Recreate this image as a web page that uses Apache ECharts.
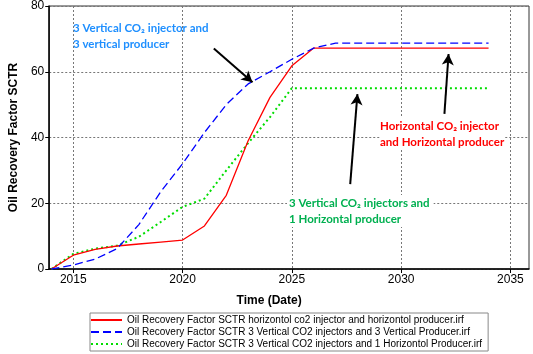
<!DOCTYPE html>
<html>
<head>
<meta charset="utf-8">
<script src="https://cdn.jsdelivr.net/npm/echarts@6/dist/echarts.min.js"></script>
<style>
  html, body { margin: 0; padding: 0; background: #fff; }
  #chart { width: 533px; height: 354px; }
</style>
</head>
<body>
<div id="chart"></div>
<script>
var years = [2014, 2015, 2016, 2017, 2018, 2019, 2020, 2021, 2022, 2023, 2024,
  2025, 2026, 2027, 2028, 2029, 2030, 2031, 2032, 2033, 2034];
var horizontal = [0, 4.2, 6.0, 7.0, 7.6, 8.2, 8.8, 13.1, 22.4, 39.0, 52.2,
  61.8, 67.2, 67.2, 67.2, 67.2, 67.2, 67.2, 67.2, 67.2, 67.2];
var vertical3 = [0, 1.2, 3.0, 6.2, 13.5, 23.5, 32.0, 41.5, 50.0, 56.3, 60.0,
  63.8, 67.2, 68.7, 68.7, 68.7, 68.7, 68.7, 68.7, 68.7, 68.7];
var vertical1h = [0, 4.6, 6.2, 7.1, 9.8, 14.3, 18.9, 21.4, 30.0, 38.3, 46.2,
  55.0, 55.0, 55.0, 55.0, 55.0, 55.0, 55.0, 55.0, 55.0, 55.0];
var xTicks = [2015, 2020, 2025, 2030, 2035];
var seriesNames = [
  'Oil Recovery Factor SCTR horizontol co2 injector and horizontol producer.irf',
  'Oil Recovery Factor SCTR 3 Vertical CO2 injectors and 3 Vertical Producer.irf',
  'Oil Recovery Factor SCTR 3 Vertical CO2 injectors and 1 Horizontol Producer.irf'
];
// arrows: [from, to] in data coords
var arrowBlue = [[2021.43, 67.1], [2023.2, 56.8]];
var arrowRed = [[2031.98, 47.2], [2032.17, 65.4]];
var arrowGreen = [[2027.67, 25.8], [2028.0, 53.2]];

function pairs(xs, ys) {
  return xs.map(function (x, i) { return [x, ys[i]]; });
}

function arrowLine(a) {
  return {
    silent: true,
    symbol: ['none', 'arrow'],
    symbolSize: [9, 11],
    label: { show: false },
    lineStyle: { color: '#000', width: 2, type: 'solid' },
    data: [[{ coord: a[0] }, { coord: a[1] }]]
  };
}

var myChart = echarts.init(document.getElementById('chart'));
var annoFont = 'Lato, "Open Sans", sans-serif';
var option = {
  animation: false,
  grid: {
    left: 33, right: 4, top: 5, bottom: 85,
    show: true, borderColor: '#333', borderWidth: 1
  },
  legend: {
    orient: 'vertical',
    left: 90,
    top: 313,
    padding: [2, 6, 2, 0],
    itemGap: 2,
    itemWidth: 31,
    itemHeight: 10,
    borderColor: '#888',
    borderWidth: 1,
    itemStyle: { opacity: 0 },
    textStyle: { fontFamily: 'Liberation Sans, Arial', fontSize: 10, color: '#000' },
    data: seriesNames
  },
  xAxis: {
    type: 'value',
    min: 2013.9,
    max: 2035.85,
    name: 'Time (Date)',
    nameLocation: 'middle',
    nameGap: 26,
    nameTextStyle: { fontFamily: 'Liberation Sans, Arial', fontWeight: 'bold', fontSize: 12, color: '#000', padding: [0, 40, 0, 0] },
    axisLine: { lineStyle: { color: '#000', width: 1.5 } },
    axisTick: { show: true, length: 4, customValues: xTicks, lineStyle: { color: '#000' } },
    axisLabel: {
      customValues: xTicks,
      formatter: function (v) { return String(v); },
      fontFamily: 'Liberation Sans, Arial', fontSize: 12, color: '#000', margin: 5
    },
    splitLine: { show: true, lineStyle: { color: '#777', type: [2, 2], width: 1 } }
  },
  yAxis: {
    type: 'value',
    min: 0,
    max: 80,
    interval: 20,
    name: 'Oil Recovery Factor SCTR',
    nameLocation: 'middle',
    nameGap: 23,
    nameTextStyle: { fontFamily: 'Liberation Sans, Arial', fontWeight: 'bold', fontSize: 12, color: '#000' },
    axisLine: { show: true, lineStyle: { color: '#000', width: 1.5 } },
    axisTick: { show: true, length: 4, lineStyle: { color: '#000' } },
    axisLabel: { fontFamily: 'Liberation Sans, Arial', fontSize: 12, color: '#000', margin: 5 },
    splitLine: { show: true, lineStyle: { color: '#777', type: [2, 2], width: 1 } }
  },
  series: [{
    name: seriesNames[0],
    type: 'line',
    symbol: 'none',
    color: '#ff0000',
    lineStyle: { color: '#ff0000', width: 1.3 },
    data: pairs(years, horizontal),
    markLine: arrowLine(arrowRed),
    z: 3
  }, {
    name: seriesNames[1],
    type: 'line',
    symbol: 'none',
    color: '#0000ff',
    lineStyle: { color: '#0000ff', width: 1.3, type: [8, 4] },
    data: pairs(years, vertical3),
    markLine: arrowLine(arrowBlue),
    z: 4
  }, {
    name: seriesNames[2],
    type: 'line',
    symbol: 'none',
    color: '#00dd00',
    lineStyle: { color: '#00dd00', width: 2, type: [2, 3] },
    data: pairs(years, vertical1h),
    markLine: arrowLine(arrowGreen),
    z: 2
  }],
  graphic: [{
    type: 'text', left: 73, top: 20, z: 10,
    style: {
      text: '3 Vertical CO\u2082 injector and\n3 vertical producer',
      fill: '#1e8fff', font: 'bold 11.5px ' + annoFont, lineHeight: 16
    }
  }, {
    type: 'text', left: 380, top: 118, z: 10,
    style: {
      text: 'Horizontal CO\u2082 injector\nand Horizontal producer',
      fill: '#ff0000', font: 'bold 11.5px ' + annoFont, lineHeight: 16,
      backgroundColor: '#fff'
    }
  }, {
    type: 'text', left: 287, top: 195, z: 10,
    style: {
      text: '3 Vertical CO\u2082 injectors and\n1 Horizontal producer',
      fill: '#00b050', font: 'bold 11.5px ' + annoFont, lineHeight: 16,
      backgroundColor: '#fff', padding: [0, 4, 0, 2]
    }
  }]
};
myChart.setOption(option, true);
window.addEventListener('resize', function () {
  myChart.resize();
});
</script>
</body>
</html>
